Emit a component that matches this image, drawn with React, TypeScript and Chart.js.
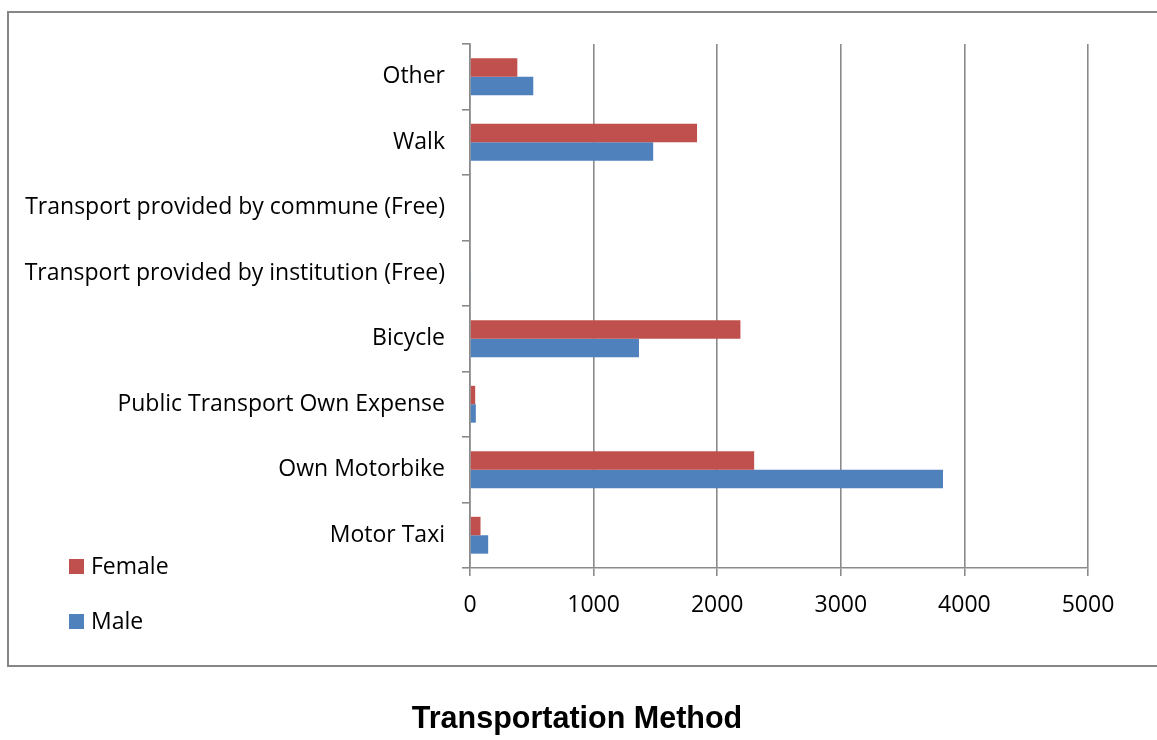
import React, { useEffect, useRef } from "react";
import { Chart, registerables } from "chart.js";

Chart.register(...registerables);

const categories: string[] = [
  "Other",
  "Walk",
  "Transport provided by commune (Free)",
  "Transport provided by institution (Free)",
  "Bicycle",
  "Public Transport Own Expense",
  "Own Motorbike",
  "Motor Taxi",
];
const femaleValues: number[] = [383, 1837, 0, 0, 2188, 42, 2299, 85];
const maleValues: number[] = [512, 1482, 0, 8, 1367, 47, 3827, 147];
const seriesNames: string[] = ["Female", "Male"];
const seriesColors: string[] = ["#C0504D", "#4F81BD"];
const xTicks: number[] = [0, 1000, 2000, 3000, 4000, 5000];
const chartTitle = "Transportation Method";

const FONT = "'Open Sans', sans-serif";
const FONT_SIZE = 23;
const GRID = "#8a8a8a";

const framePlugin = {
  id: "frameAndExtras",
  beforeDraw(chart: any) {
    const ctx = chart.ctx;
    ctx.save();
    ctx.fillStyle = "#ffffff";
    ctx.fillRect(0, 0, chart.width, chart.height);
    ctx.strokeStyle = "#868686";
    ctx.lineWidth = 2;
    ctx.beginPath();
    ctx.moveTo(1170, 12);
    ctx.lineTo(8, 12);
    ctx.lineTo(8, 666);
    ctx.lineTo(1170, 666);
    ctx.stroke();
    ctx.restore();
  },
  afterDraw(chart: any) {
    const ctx = chart.ctx;
    ctx.save();
    const ys = [566, 621];
    chart.data.datasets.forEach((ds: any, i: number) => {
      ctx.fillStyle = ds.backgroundColor;
      ctx.fillRect(69, ys[i] - 7, 15, 15);
      ctx.fillStyle = "#000";
      ctx.font = `${FONT_SIZE}px ${FONT}`;
      ctx.textBaseline = "middle";
      ctx.textAlign = "left";
      ctx.fillText(ds.label, 91, ys[i] + 1);
    });
    ctx.font = "bold 30.5px 'Liberation Sans', Arial, sans-serif";
    ctx.textAlign = "center";
    ctx.textBaseline = "middle";
    ctx.fillStyle = "#000";
    ctx.fillText(chartTitle, 577, 720);
    ctx.restore();
  },
};

export default function App() {
  const ref = useRef<HTMLCanvasElement | null>(null);
  useEffect(() => {
    if (!ref.current) return;
    const chart = new Chart(ref.current, {
      type: "bar",
      data: {
        labels: categories,
        datasets: [
          {
            label: seriesNames[0],
            data: femaleValues,
            backgroundColor: seriesColors[0],
            categoryPercentage: 0.563,
            barPercentage: 1.0,
          },
          {
            label: seriesNames[1],
            data: maleValues,
            backgroundColor: seriesColors[1],
            categoryPercentage: 0.563,
            barPercentage: 1.0,
          },
        ],
      },
      options: {
        indexAxis: "y",
        animation: false,
        responsive: false,
        layout: { padding: { left: 0, top: 44, right: 69, bottom: 122 } },
        plugins: {
          legend: { display: false },
          title: { display: false },
          tooltip: { enabled: false },
        },
        scales: {
          x: {
            type: "linear",
            min: 0,
            max: 5000,
            afterBuildTicks: (scale: any) => {
              scale.ticks = xTicks.map((v) => ({ value: v }));
            },
            afterFit: (scale: any) => {
              scale.height = 50;
            },
            grid: {
              color: GRID,
              lineWidth: 1.6,
              drawTicks: true,
              tickLength: 8,
            },
            border: { display: true, color: GRID, width: 1.6 },
            ticks: {
              color: "#000",
              font: { family: FONT, size: FONT_SIZE },
              padding: 16,
              maxRotation: 0,
              callback: (v: any) => String(v),
            },
          },
          y: {
            type: "category",
            afterFit: (scale: any) => {
              scale.width = 470;
            },
            grid: {
              color: GRID,
              lineWidth: 1.6,
              drawOnChartArea: false,
              drawTicks: true,
              tickLength: 8,
              offset: true,
            },
            border: { display: true, color: GRID, width: 1.6 },
            ticks: {
              color: "#000",
              font: { family: FONT, size: FONT_SIZE },
              padding: 17,
              autoSkip: false,
            },
          },
        },
      },
      plugins: [framePlugin],
    });
    return () => chart.destroy();
  }, []);
  return (
    <div style={{ position: "absolute", left: 0, top: 0, width: 1157, height: 740 }}>
      <canvas ref={ref} width={1157} height={740} style={{ width: 1157, height: 740, display: "block" }} />
    </div>
  );
}
